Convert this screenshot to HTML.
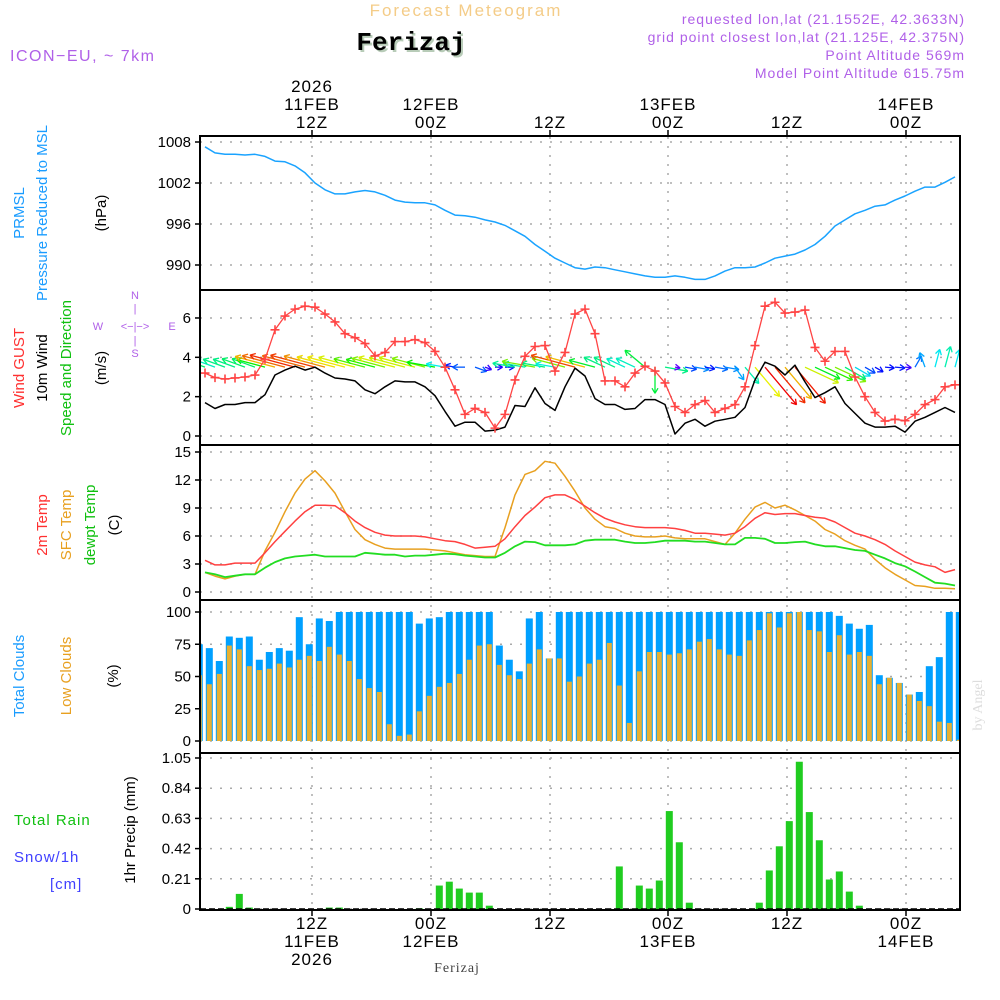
<!DOCTYPE html>
<html><head><meta charset="utf-8">
<style>
html,body{margin:0;padding:0;background:#fff;}
svg{display:block;font-family:"Liberation Sans",sans-serif;}
</style></head>
<body>
<svg id="chart" width="1000" height="1000" viewBox="0 0 1000 1000" xmlns="http://www.w3.org/2000/svg">
<defs><clipPath id="plotclip"><rect x="201" y="137" width="758" height="772"/></clipPath></defs>
<g id="texts">
<text x="466" y="16" text-anchor="middle" font-size="17" fill="#f4cc88" letter-spacing="2">Forecast Meteogram</text>
<text x="411" y="50" text-anchor="middle" font-size="26" font-weight="bold" font-family="Liberation Mono,monospace" fill="#b8ccb8" transform="translate(2,2)">Ferizaj</text>
<text x="411" y="50" text-anchor="middle" font-size="26" font-weight="bold" font-family="Liberation Mono,monospace" fill="#000">Ferizaj</text>
<text x="10" y="61" font-size="16" fill="#b060e8" letter-spacing="1.5">ICON−EU, ~ 7km</text>
<g font-size="14" fill="#b060e8" text-anchor="end" letter-spacing="1">
<text x="965" y="24">requested lon,lat (21.1552E, 42.3633N)</text>
<text x="965" y="42">grid point closest lon,lat (21.125E, 42.375N)</text>
<text x="965" y="60">Point Altitude 569m</text>
<text x="965" y="78">Model Point Altitude 615.75m</text>
</g>
<g font-size="15">
<text transform="translate(24,213) rotate(-90)" text-anchor="middle" fill="#1a9cff">PRMSL</text>
<text transform="translate(47,213) rotate(-90)" text-anchor="middle" fill="#1a9cff">Pressure Reduced to MSL</text>
<text transform="translate(106,213) rotate(-90)" text-anchor="middle" fill="#000">(hPa)</text>
<text transform="translate(24,368) rotate(-90)" text-anchor="middle" fill="#ff3030">Wind GUST</text>
<text transform="translate(47,368) rotate(-90)" text-anchor="middle" fill="#000">10m Wind</text>
<text transform="translate(71,368) rotate(-90)" text-anchor="middle" fill="#10c010">Speed and Direction</text>
<text transform="translate(106,368) rotate(-90)" text-anchor="middle" fill="#000">(m/s)</text>
<text transform="translate(47,525) rotate(-90)" text-anchor="middle" fill="#ff3030">2m Temp</text>
<text transform="translate(71,525) rotate(-90)" text-anchor="middle" fill="#e8a020">SFC Temp</text>
<text transform="translate(95,525) rotate(-90)" text-anchor="middle" fill="#10c010">dewpt Temp</text>
<text transform="translate(119,525) rotate(-90)" text-anchor="middle" fill="#000">(C)</text>
<text transform="translate(24,676) rotate(-90)" text-anchor="middle" fill="#1a9cff">Total Clouds</text>
<text transform="translate(71,676) rotate(-90)" text-anchor="middle" fill="#e8a020">Low Clouds</text>
<text transform="translate(118,676) rotate(-90)" text-anchor="middle" fill="#000">(%)</text>
<text transform="translate(135,830) rotate(-90)" text-anchor="middle" fill="#000">1hr Precip (mm)</text>
<text x="14" y="825" fill="#10c010" letter-spacing="1">Total  Rain</text>
<text x="14" y="862" fill="#4040ff" letter-spacing="1">Snow/1h</text>
<text x="50" y="889" fill="#4040ff" letter-spacing="1">[cm]</text>
</g>
<g font-size="11" fill="#b060e8">
<text x="135" y="299" text-anchor="middle">N</text>
<text x="135" y="312" text-anchor="middle">|</text>
<text x="135" y="330" text-anchor="middle">&lt;−|−&gt;</text>
<text x="98" y="330" text-anchor="middle">W</text>
<text x="172" y="330" text-anchor="middle">E</text>
<text x="135" y="344" text-anchor="middle">|</text>
<text x="135" y="357" text-anchor="middle">S</text>
</g>
<text x="457" y="972" text-anchor="middle" font-size="14" font-family="Liberation Serif,serif" fill="#444" letter-spacing="1">Ferizaj</text>
<text transform="translate(982,705) rotate(-90)" text-anchor="middle" font-size="14" font-family="Liberation Serif,serif" fill="#ddd">by Angel</text>
</g>
<g id="grid"></g>
<g id="marks" clip-path="url(#plotclip)"></g>
<g id="frame"></g>
<g id="axes"></g>
</svg>
<script>
const tickHours = [10.7, 22.6, 34.5, 46.3, 58.2, 70.1];
const tickTopLabels = [["2026","11FEB","12Z"],["12FEB","00Z"],["12Z"],["13FEB","00Z"],["12Z"],["14FEB","00Z"]];
const tickBottomLabels = [["12Z","11FEB","2026"],["00Z","12FEB"],["12Z"],["00Z","13FEB"],["12Z"],["00Z","14FEB"]];
const pressure = [1007.3,1006.4,1006.2,1006.2,1006.1,1006.2,1005.9,1005.2,1005.1,1004.5,1003.5,1002,1001,1000.4,1000.4,1000.7,1000.9,1000.7,1000.2,999.5,999.2,999.1,999.1,998.8,998.0,997.3,997.2,997.0,996.6,996.3,995.8,995.0,994.2,993.0,992.0,991.0,990.3,989.6,989.4,989.7,989.6,989.3,989.0,988.7,988.4,988.2,988.2,988.4,988.2,987.9,987.9,988.4,989.1,989.6,989.6,989.7,990.3,991.0,991.3,991.6,992.2,993.0,994.2,995.7,996.6,997.5,998.0,998.6,998.8,999.5,1000.1,1000.8,1001.4,1001.4,1002.1,1002.9];
const gust = [3.2,2.97,2.9,2.95,3.0,3.1,3.9,5.4,6.1,6.45,6.6,6.55,6.2,5.8,5.2,5.0,4.7,4.07,4.25,4.8,4.8,4.9,4.75,4.3,3.5,2.35,1.1,1.4,1.2,0.4,1.1,2.85,4.05,4.55,4.6,3.3,4.25,6.2,6.45,5.2,2.8,2.8,2.5,3.2,3.55,3.3,2.7,1.5,1.2,1.6,1.8,1.2,1.4,1.6,2.5,4.6,6.6,6.8,6.25,6.3,6.4,4.5,3.8,4.3,4.3,3.0,2.0,1.2,0.76,0.85,0.78,1.1,1.6,1.85,2.5,2.6];
const wind10m = [1.7,1.4,1.6,1.6,1.7,1.7,2.1,3.1,3.35,3.55,3.35,3.5,3.2,2.95,2.9,2.8,2.35,2.15,2.5,2.8,2.75,2.75,2.5,2.05,1.25,0.5,0.7,0.7,0.25,0.3,0.45,1.55,1.5,2.45,1.65,1.3,2.5,3.45,3.05,1.9,1.6,1.6,1.35,1.4,1.85,1.85,1.6,0.1,0.65,0.85,0.5,0.75,0.85,0.95,1.45,2.85,3.75,3.55,3.1,3.6,2.75,1.95,2.2,2.5,1.65,1.15,0.65,0.45,0.45,0.5,0.2,0.75,0.95,1.2,1.45,1.2];
const windToAngle = [160,160,160,160,160,160,165,165,165,165,165,165,165,165,165,165,165,165,165,165,165,165,165,170,170,170,180,-20,-20,0,0,170,170,170,170,170,165,165,165,165,155,155,155,155,140,-90,-10,-10,-10,-10,-10,-10,-10,-55,-50,-50,-50,-50,-50,-50,-25,-25,-25,-25,-30,-30,-30,-30,-5,-5,-5,60,110,75,75,75];
const temp2m = [3.4,2.9,2.9,3.1,3.1,3.1,4.2,5.4,6.5,7.6,8.6,9.3,9.3,9.25,8.5,7.6,6.9,6.4,6.1,6.0,6.0,6.0,5.9,5.7,5.5,5.4,5.1,4.7,4.8,4.9,5.7,7.0,8.2,9.1,10.1,10.4,10.4,9.9,9.2,8.5,7.9,7.5,7.2,7.0,6.9,6.9,6.9,6.8,6.6,6.3,6.3,6.2,6.1,6.3,7.0,7.9,8.5,8.3,8.4,8.4,8.2,8.0,7.9,7.5,6.9,6.3,6.0,5.6,5.1,4.4,3.8,3.2,2.9,2.7,2.1,2.4];
const tempSfc = [2.1,1.7,1.4,1.7,1.9,1.9,4.4,6.4,8.6,10.6,12.1,13.0,11.9,10.6,8.6,6.7,5.6,5.1,4.7,4.6,4.6,4.6,4.6,4.5,4.4,4.2,4.0,3.9,3.8,3.8,6.9,10.4,12.6,13.0,14.0,13.8,12.4,10.8,9.0,7.8,7.0,6.8,6.3,6.0,5.9,5.9,6.0,5.8,5.7,5.7,5.7,5.4,5.1,6.3,7.8,9.1,9.6,9.0,9.3,8.8,8.2,7.6,6.7,6.2,5.5,5.0,4.6,3.5,2.6,1.9,1.3,0.7,0.6,0.4,0.4,0.35];
const dewpt = [2.1,1.9,1.6,1.75,1.9,1.9,2.6,3.2,3.6,3.8,3.9,4.0,3.8,3.8,3.8,3.8,4.2,4.1,4.0,4.0,3.8,3.9,3.9,4.0,4.1,4.05,3.9,3.8,3.7,3.7,4.2,4.9,5.4,5.35,5.0,5.0,5.0,5.1,5.5,5.6,5.6,5.6,5.4,5.25,5.25,5.35,5.5,5.5,5.5,5.4,5.4,5.25,5.1,5.1,5.8,5.8,5.7,5.25,5.25,5.35,5.4,5.1,4.9,4.9,4.7,4.5,4.4,4.0,3.6,3.1,2.75,2.2,1.6,1.0,0.9,0.7];
const totalClouds = [75,72,62,81,80,81,63,69,72,70,96,75,95,93,100,100,100,100,100,100,100,100,91,95,96,100,100,100,100,100,74,63,54,95,100,64,100,100,100,100,100,100,100,100,100,100,100,100,100,100,100,100,100,100,100,100,100,100,100,100,100,100,100,100,97,91,87,90,51,49,45,36,38,58,65,100,100];
const lowClouds = [51,44,52,74,71,58,55,56,60,57,63,66,62,73,67,62,48,41,38,13,4,5,23,35,42,45,52,63,74,75,59,51,48,60,71,64,64,46,50,60,63,76,43,14,54,69,69,67,68,71,77,79,71,67,66,78,86,99,88,99,100,86,85,69,82,67,69,66,44,49,45,36,31,27,15,14,1];
const precip = [0,0,0,0.015,0.105,0.01,0,0,0,0,0,0,0,0.01,0.01,0,0,0,0,0,0,0,0.005,0,0.163,0.19,0.142,0.114,0.114,0.023,0,0,0,0,0,0,0,0,0,0,0,0,0.296,0,0.163,0.142,0.198,0.681,0.464,0.044,0,0,0,0,0,0,0.044,0.268,0.436,0.611,1.024,0.674,0.478,0.205,0.261,0.121,0.023,0,0,0,0,0,0,0,0,0,0];
const pTicks = [1008,1002,996,990];
const wTicks = [6,4,2,0];
const tTicks = [15,12,9,6,3,0];
const cTicks = [100,75,50,25,0];
const rTicks = [1.05,0.84,0.63,0.42,0.21,0];
const rTickLabels = ["1.05","0.84","0.63","0.42","0.21","0"];

const X0 = 200, X1 = 960;
function xS(h){ return 205 + 10*h; }
function xBar(i){ return xS(i - 0.57); }
function yP(v){ return 142 + (1008 - v) * 123/18; }
function yW(v){ return 436 - v * 19.67; }
function yT(v){ return 592 - v * 140/15; }
function yC(v){ return 741 - v * 1.29; }
function yR(v){ return 909 - v * 151/1.05; }

const NS = "http://www.w3.org/2000/svg";
function mk(tag, attrs, parent){
  const e = document.createElementNS(NS, tag);
  for (const k in attrs) e.setAttribute(k, attrs[k]);
  parent.appendChild(e);
  return e;
}
const grid = document.getElementById('grid');
const marks = document.getElementById('marks');
const frame = document.getElementById('frame');
const axes = document.getElementById('axes');

const panels = [
  {top:136, bot:290, ticks:pTicks, y:yP, labels:pTicks.map(String), name:'pressure'},
  {top:290, bot:445, ticks:wTicks, y:yW, labels:wTicks.map(String), name:'wind'},
  {top:445, bot:600, ticks:tTicks, y:yT, labels:tTicks.map(String), name:'temp'},
  {top:600, bot:753, ticks:cTicks, y:yC, labels:cTicks.map(String), name:'cloud'},
  {top:753, bot:910, ticks:rTicks, y:yR, labels:rTickLabels, name:'precip'}
];

panels.forEach(p => {
  p.ticks.forEach((t, k) => {
    const yy = p.y(t);
    const gl = mk('line', {x1:X0, x2:X1, y1:yy, y2:yy, stroke:'#aaa', 'stroke-width':1.5, 'stroke-dasharray':'2,8'}, grid);
    
    
    const tk = mk('line', {x1:X0-5, x2:X0, y1:yy, y2:yy, stroke:'#000', 'stroke-width':1.5}, axes);
    
    
    const lb = mk('text', {x:X0-9, y:yy+5, 'text-anchor':'end', 'font-size':15, fill:'#000'}, axes);
    lb.textContent = p.labels[k];
    
    
  });
});
tickHours.forEach((h, k) => {
  const xx = xS(h);
  const vl = mk('line', {x1:xx, x2:xx, y1:137, y2:909, stroke:'#aaa', 'stroke-width':1.5, 'stroke-dasharray':'2,7'}, grid);
  
  
  const t1 = mk('line', {x1:xx, x2:xx, y1:130, y2:136, stroke:'#000', 'stroke-width':1.5}, axes);
  
  
  const t2 = mk('line', {x1:xx, x2:xx, y1:910, y2:916, stroke:'#000', 'stroke-width':1.5}, axes);
  
  
  const top = tickTopLabels[k];
  top.forEach((s, j) => {
    const tt = mk('text', {x:xx, y:128 - (top.length-1-j)*18, 'text-anchor':'middle', 'font-size':17, fill:'#000', 'letter-spacing':1}, axes);
    tt.textContent = s;
    
    
  });
  tickBottomLabels[k].forEach((s, j) => {
    const tb = mk('text', {x:xx, y:929 + j*18, 'text-anchor':'middle', 'font-size':17, fill:'#000', 'letter-spacing':1}, axes);
    tb.textContent = s;
    
    
  });
});

function polyline(arr, yf, color, w, name){
  const pts = arr.map((v, i) => xS(i).toFixed(1) + ',' + yf(v).toFixed(1)).join(' ');
  const pl = mk('polyline', {points:pts, fill:'none', stroke:color, 'stroke-width':w, 'stroke-linejoin':'round'}, marks);
  
  
}

polyline(pressure, yP, '#1aa3ff', 1.5, 'pressure-line');

function speedColor(s){
  let hue = 270 - Math.min(s, 3.7) / 3.7 * 270;
  return 'hsl(' + hue.toFixed(0) + ',100%,' + (hue > 200 ? 50 : 47) + '%)';
}
windToAngle.forEach((a, i) => {
  const s = wind10m[i];
  const L = 4 + s * 12;
  const rad = a * Math.PI / 180;
  const x1 = xS(i), y1 = yW(3.5);
  const x2 = x1 + L * Math.cos(rad), y2 = y1 - L * Math.sin(rad);
  const col = speedColor(s);
  const g = mk('g', {stroke:col, 'stroke-width':1.3, fill:'none'}, marks);
  
  
  mk('line', {x1:x1, y1:y1, x2:x2, y2:y2}, g);
  const hl = 6;
  [150, -150].forEach(d => {
    const r2 = (a + d) * Math.PI / 180;
    mk('line', {x1:x2, y1:y2, x2:x2 + hl*Math.cos(r2), y2:y2 - hl*Math.sin(r2)}, g);
  });
});
polyline(wind10m, yW, '#000', 1.5, 'wind-speed-line');
polyline(gust, yW, '#ff4444', 1.3, 'gust-line');
gust.forEach((v, i) => {
  const x = xS(i), y = yW(v);
  const m = mk('path', {d:'M' + (x-4.5) + ',' + y + 'H' + (x+4.5) + 'M' + x + ',' + (y-4.5) + 'V' + (y+4.5), stroke:'#ff4444', 'stroke-width':1.6}, marks);
  
  
});

polyline(tempSfc, yT, '#e8a020', 1.5, 'sfc-temp-line');
polyline(temp2m, yT, '#ff4040', 1.5, 'temp-2m-line');
polyline(dewpt, yT, '#22dd22', 1.8, 'dewpt-line');

totalClouds.forEach((v, i) => {
  const x = xBar(i);
  const r = mk('rect', {x:x-3.5, y:yC(v), width:7, height:yC(0)-yC(v), fill:'#00a0ff'}, marks);
  
  
});
lowClouds.forEach((v, i) => {
  const x = xBar(i);
  const r = mk('rect', {x:x-2.5, y:yC(v), width:5, height:yC(0)-yC(v), fill:'#e8b030'}, marks);
  
  
});

precip.forEach((v, i) => {
  if (v <= 0) return;
  const x = xBar(i);
  const r = mk('rect', {x:x-3.5, y:yR(v), width:7, height:yR(0)-yR(v), fill:'#20cc20'}, marks);
  
  
});
const zl = mk('line', {x1:X0, x2:X1, y1:yR(0), y2:yR(0), stroke:'#000', 'stroke-width':1.5, 'stroke-dasharray':'6,3'}, marks);



panels.forEach(p => {
  const r = mk('rect', {x:X0, y:p.top, width:X1-X0, height:p.bot-p.top, fill:'none', stroke:'#000', 'stroke-width':2}, frame);
  
  
});
</script>
</body></html>
